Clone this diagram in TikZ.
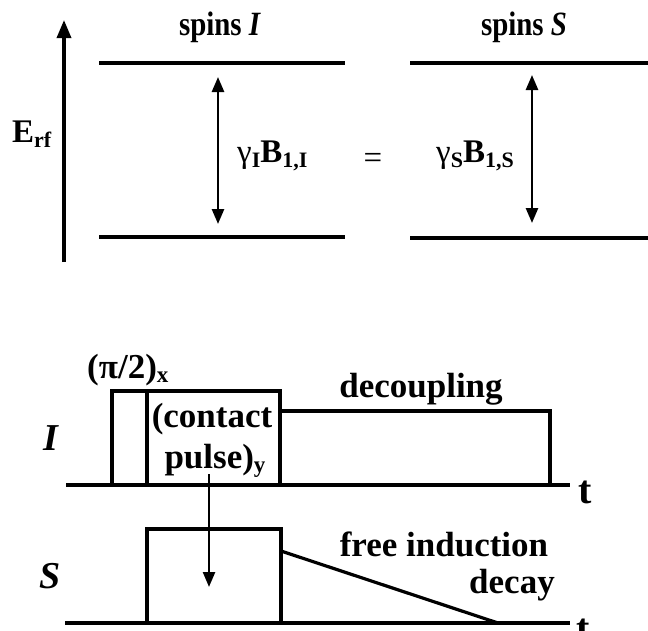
\documentclass[tikz,border=0pt]{standalone}
\usepackage{fontspec}
\setmainfont{Liberation Serif}
\usetikzlibrary{arrows.meta}
\newcommand\lsub[1]{\raisebox{-0.35ex}{\fontsize{22}{23}\selectfont #1}}
\newcommand\bsub[1]{\raisebox{-0.3ex}{\fontsize{23}{24}\selectfont #1}}
\newcommand\narrow[1]{\scalebox{0.85}[1]{#1}}
\tikzset{
  lvl/.style={line width=4pt},
  pulsebox/.style={line width=3.2pt},
  baseline/.style={line width=4pt},
  earrow/.style={line width=3.4pt,-{Triangle[length=18pt,width=14pt]}},
  darrow/.style={line width=2.6pt,{Triangle[length=15pt,width=12pt]}-{Triangle[length=15pt,width=12pt]}},
  transarrow/.style={line width=2.4pt,-{Triangle[length=15pt,width=12pt]}},
  lab/.style={font=\fontsize{33}{34}\selectfont\bfseries, inner sep=0pt},
  blab/.style={font=\fontsize{35}{36}\selectfont\bfseries, inner sep=0pt},
  chlab/.style={font=\fontsize{38}{40}\selectfont\bfseries\itshape, inner sep=0pt},
  tlab/.style={font=\fontsize{40}{42}\selectfont\bfseries, inner sep=0pt}
}
\begin{document}
\begin{tikzpicture}[x=1pt,y=-1pt]
\useasboundingbox (0,0) rectangle (648,630);
% ---------- energy diagram ----------
\coordinate (ebot) at (64,262);
\coordinate (etop) at (64,20);
\draw[earrow] (ebot) -- (etop);
\node[lab,anchor=base west,font=\fontsize{33}{34}\selectfont\bfseries] (erf) at (12,142) {E\lsub{rf}};
\node[lab,anchor=base,font=\fontsize{34}{35}\selectfont\bfseries] (spinsI) at (220,35) {\narrow{spins \textit{I}}};
\node[lab,anchor=base,font=\fontsize{34}{35}\selectfont\bfseries] (spinsS) at (524,35) {\narrow{spins \textit{S}}};
\coordinate (ItL) at (99,63);  \coordinate (ItR) at (345,63);
\coordinate (IbL) at (99,237); \coordinate (IbR) at (345,237);
\coordinate (StL) at (410,63); \coordinate (StR) at (650,63);
\coordinate (SbL) at (410,238);\coordinate (SbR) at (650,238);
\draw[lvl] (ItL) -- (ItR);
\draw[lvl] (IbL) -- (IbR);
\draw[lvl] (StL) -- (StR);
\draw[lvl] (SbL) -- (SbR);
\coordinate (aIt) at (218,77); \coordinate (aIb) at (218,224);
\coordinate (aSt) at (532,75); \coordinate (aSb) at (532,223);
\draw[darrow] (aIt) -- (aIb);
\draw[darrow] (aSt) -- (aSb);
\node[lab,anchor=base west] (gI) at (237,162) {{\mdseries γ}\lsub{I}B\lsub{1,I}};
\node[lab,anchor=base] (eq) at (373,168) {\mdseries =};
\node[lab,anchor=base east] (gS) at (514,162) {{\mdseries γ}\lsub{S}B\lsub{1,S}};
% ---------- pulse sequence ----------
\coordinate (IaL) at (66,485); \coordinate (IaR) at (570,485);
\coordinate (SaL) at (65,623); \coordinate (SaR) at (570,623);
\draw[baseline] (IaL) -- (IaR);
\draw[baseline] (SaL) -- (SaR);
\node[tlab,anchor=base] (t1) at (585,503) {t};
\node[tlab,anchor=base] (t2) at (583,641) {t};
\node[chlab,anchor=base] (Ilab) at (51,450) {I};
\node[chlab,anchor=base] (Slab) at (50,588) {S};
% I channel pulses
\draw[pulsebox] (112,485) |- (147,391) -- (147,485);
\draw[pulsebox] (147,391) -| (280,485);
\draw[pulsebox] (280,411) -| (550,485);
% S channel
\draw[pulsebox] (147,623) |- (281,529) -- (281,623);
\coordinate (fidA) at (281,551); \coordinate (fidB) at (498,623);
\draw[pulsebox] (fidA) -- (fidB);
\coordinate (ctA) at (209,474); \coordinate (ctB) at (209,587);
\draw[transarrow] (ctA) -- (ctB);
% labels
\node[blab,anchor=base west] (p2) at (87,378) {(π/2)\bsub{x}};
\node[blab,anchor=base] (contact) at (212,427) {(contact};
\node[blab,anchor=base] (pulse) at (215,468) {pulse)\bsub{y}};
\node[blab,anchor=base] (dec) at (421,397) {decoupling};
\node[blab,anchor=base] (fid1) at (444,556) {free induction};
\node[blab,anchor=base] (fid2) at (512,593) {decay};
\end{tikzpicture}
\end{document}
